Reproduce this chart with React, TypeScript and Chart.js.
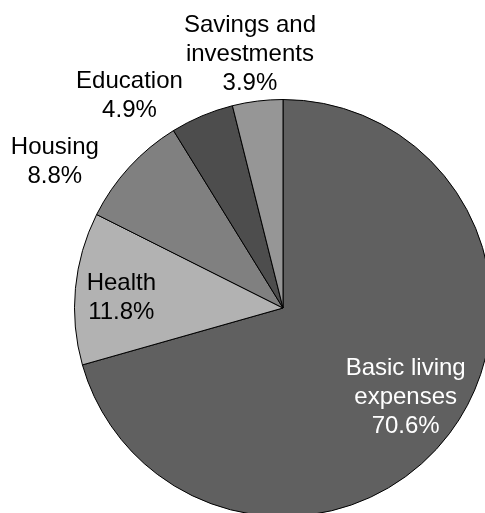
import React, { useEffect, useRef } from "react";
import { Chart, registerables } from "chart.js";

Chart.register(...registerables);

const categories = [
  ["Basic living", "expenses"],
  ["Health"],
  ["Housing"],
  ["Education"],
  ["Savings and", "investments"],
];
const values = [70.6, 11.8, 8.8, 4.9, 3.9];
const sliceColors = ["#606060", "#b2b2b2", "#808080", "#4d4d4d", "#969696"];
const labelColors = ["#ffffff", "#000000", "#000000", "#000000", "#000000"];
// label placement: radius ratio and angle offset (degrees) from slice mid-angle
const labelRadius = [0.729, 0.777, 1.3, 1.254, 1.228];
const labelAngleShift = [-0.9, -1.8, -9.8, -13.1, -0.4];

const FONT = "'Liberation Sans', Arial, Helvetica, sans-serif";

const labelPlugin = {
  id: "sliceLabels",
  afterDatasetsDraw(chart: any) {
    const meta = chart.getDatasetMeta(0);
    const ctx = chart.ctx;
    ctx.save();
    ctx.font = `24px ${FONT}`;
    ctx.textAlign = "center";
    ctx.textBaseline = "middle";
    meta.data.forEach((arc: any, i: number) => {
      const { x, y, startAngle, endAngle, outerRadius } = arc.getProps(
        ["x", "y", "startAngle", "endAngle", "outerRadius"],
        true
      );
      const a = (startAngle + endAngle) / 2 + (labelAngleShift[i] * Math.PI) / 180;
      const r = outerRadius * labelRadius[i];
      const cx = x + Math.cos(a) * r;
      const cy = y + Math.sin(a) * r;
      const lines = [...categories[i], values[i].toFixed(1) + "%"];
      const lh = 29;
      ctx.fillStyle = labelColors[i];
      lines.forEach((t, j) => {
        ctx.fillText(t, cx, cy + (j - (lines.length - 1) / 2) * lh);
      });
    });
    ctx.restore();
  },
};

export default function App() {
  const ref = useRef<HTMLCanvasElement>(null);
  useEffect(() => {
    if (!ref.current) return;
    const chart = new Chart(ref.current, {
      type: "pie",
      data: {
        labels: categories.map((c) => c.join(" ")),
        datasets: [
          {
            data: values,
            backgroundColor: sliceColors,
            borderColor: "#000000",
            borderWidth: 1,
          },
        ],
      },
      options: {
        animation: false,
        responsive: true,
        maintainAspectRatio: false,
        layout: { padding: { left: 74, right: 74, top: 99, bottom: 99 } },
        plugins: {
          legend: { display: false },
          tooltip: { enabled: false },
        },
      },
      plugins: [labelPlugin],
    });
    return () => chart.destroy();
  }, []);
  return (
    <div style={{ position: "fixed", inset: 0, overflow: "hidden", background: "#fff" }}>
      <div style={{ position: "absolute", left: 0, top: 0, width: 566, height: 616 }}>
        <canvas ref={ref} />
      </div>
    </div>
  );
}
